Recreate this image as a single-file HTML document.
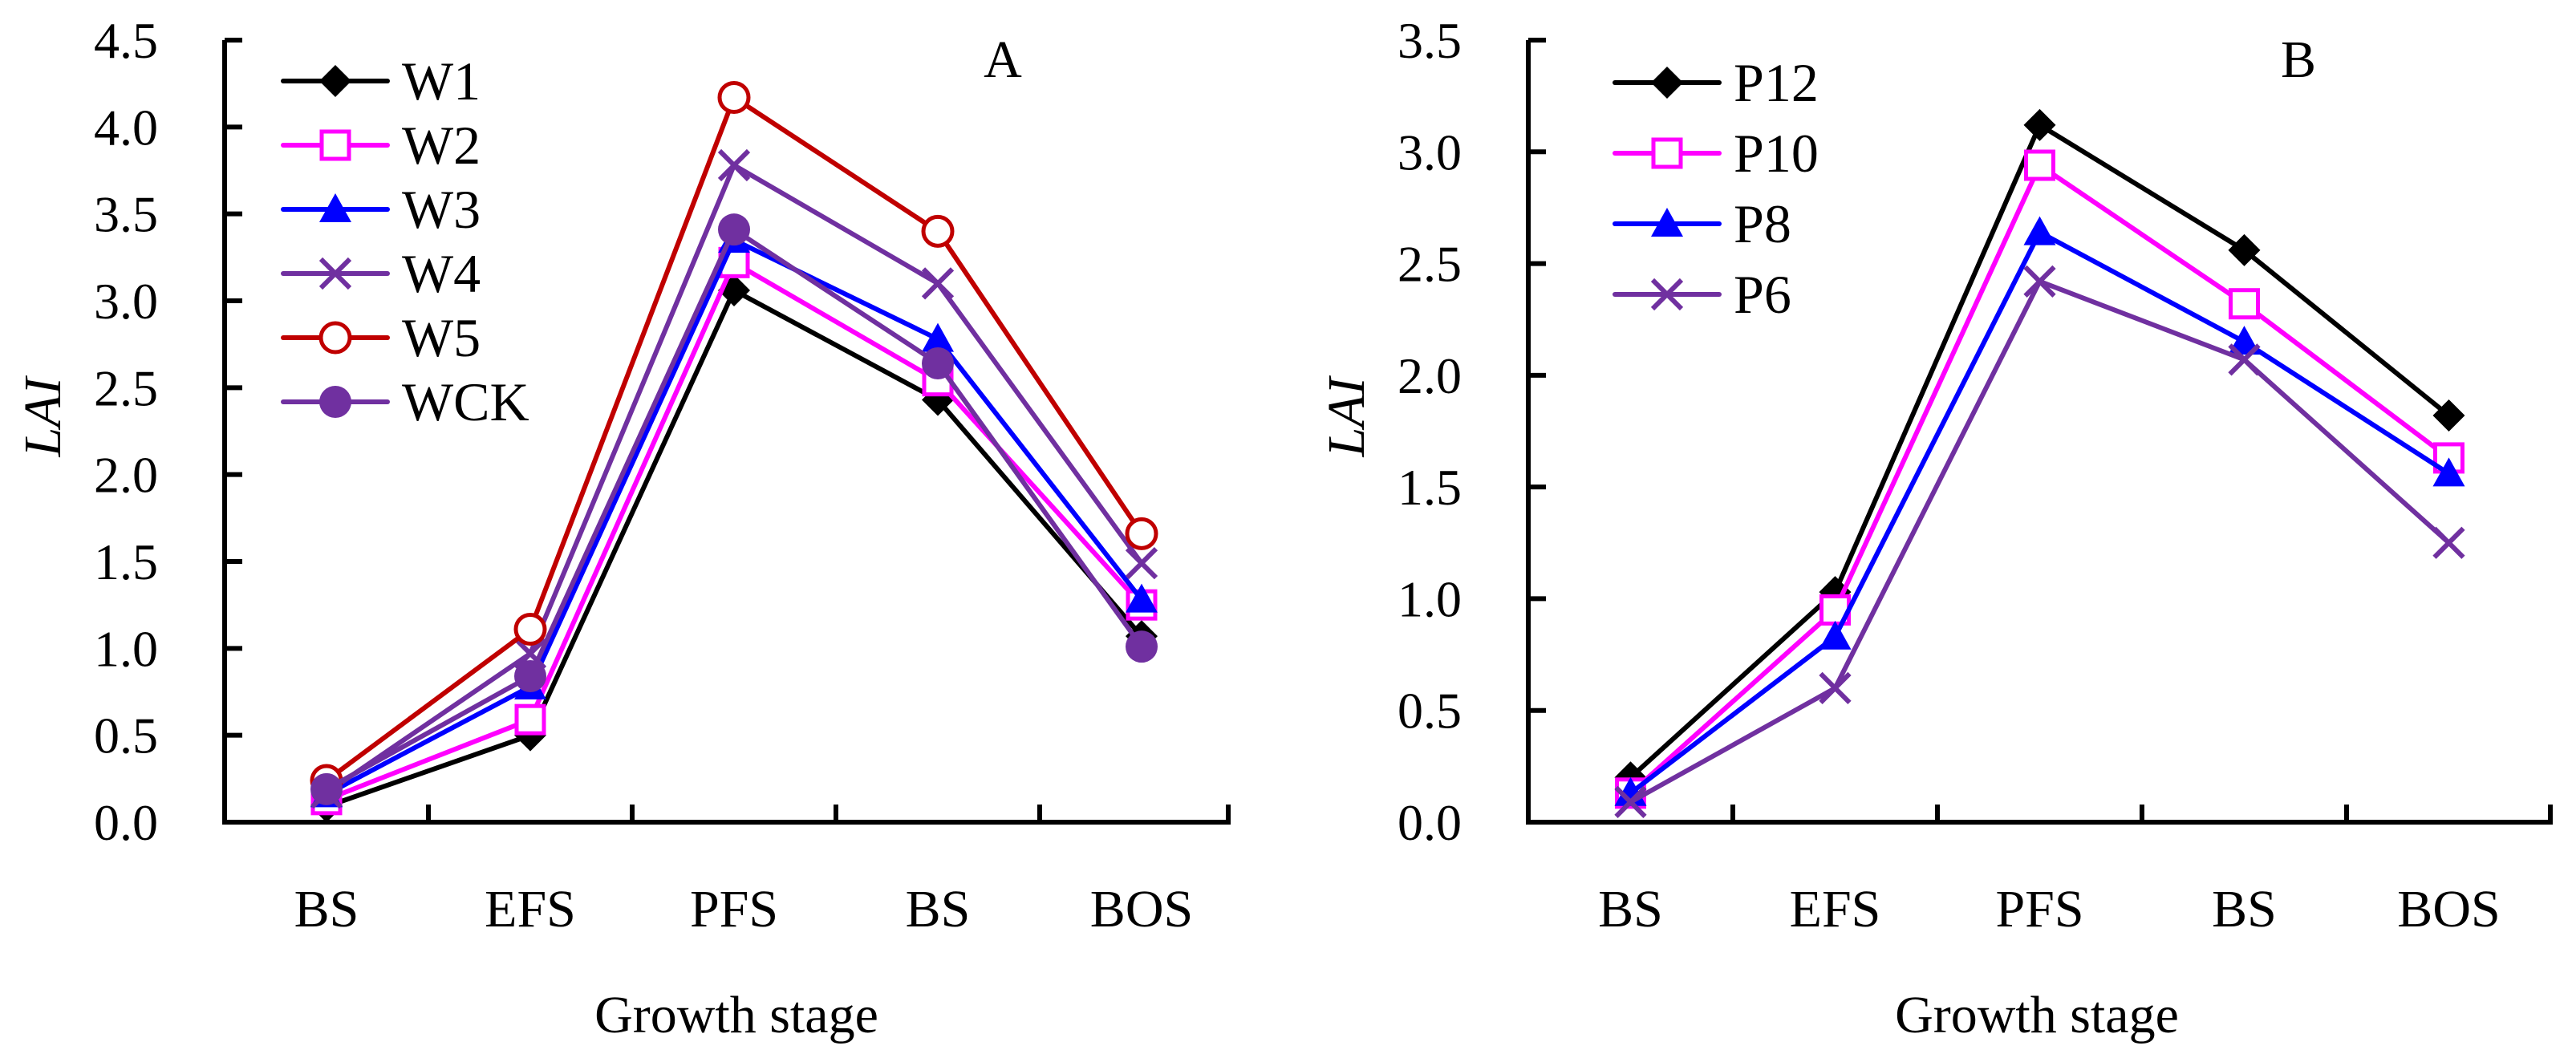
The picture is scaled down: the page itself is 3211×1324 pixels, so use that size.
<!DOCTYPE html>
<html><head><meta charset="utf-8"><style>
html,body{margin:0;padding:0;background:#fff;}
svg{display:block;}
svg text{font-family:"Liberation Serif","Times New Roman",serif;}
</style></head><body>
<svg id="chart" width="3211" height="1324" viewBox="0 0 3211 1324" xmlns="http://www.w3.org/2000/svg" font-family="Liberation Serif, serif"></svg>
<script>
const categories = ["BS","EFS","PFS","BS","BOS"];
const namesA = ["W1","W2","W3","W4","W5","WCK"];
const w1 = [0.09,0.50,3.06,2.43,1.07];
const w2 = [0.13,0.59,3.22,2.54,1.25];
const w3 = [0.16,0.78,3.35,2.78,1.28];
const w4 = [0.17,0.97,3.78,3.10,1.49];
const w5 = [0.24,1.11,4.17,3.40,1.66];
const wck = [0.19,0.84,3.41,2.64,1.01];
const namesB = ["P12","P10","P8","P6"];
const p12 = [0.20,1.03,3.12,2.56,1.82];
const p10 = [0.13,0.95,2.94,2.32,1.63];
const p8 = [0.13,0.83,2.64,2.15,1.56];
const p6 = [0.09,0.60,2.42,2.07,1.25];
const ticksA = ["0.0","0.5","1.0","1.5","2.0","2.5","3.0","3.5","4.0","4.5"];
const ticksB = ["0.0","0.5","1.0","1.5","2.0","2.5","3.0","3.5"];

const NS="http://www.w3.org/2000/svg";
const svg=document.getElementById('chart');
const FONT="Liberation Serif, Times New Roman, serif";
function mk(tag,attrs,parent){const e=document.createElementNS(NS,tag);for(const k in attrs)e.setAttribute(k,attrs[k]);if(tag==='text')e.setAttribute('font-family',FONT);(parent||svg).appendChild(e);return e;}

function marker(g,type,color,x,y){
  const s=20;let m;
  if(type==='diamond'){m=mk('polygon',{points:`${x},${y-s} ${x+s},${y} ${x},${y+s} ${x-s},${y}`,fill:color},g);}
  else if(type==='square'){m=mk('rect',{x:x-17,y:y-17,width:34,height:34,fill:'#fff',stroke:color,'stroke-width':5},g);}
  else if(type==='triangle'){m=mk('polygon',{points:`${x},${y-s} ${x+s},${y+s*0.8} ${x-s},${y+s*0.8}`,fill:color},g);}
  else if(type==='x'){m=mk('path',{d:`M${x-18},${y-18}L${x+18},${y+18}M${x-18},${y+18}L${x+18},${y-18}`,stroke:color,'stroke-width':6,fill:'none'},g);}
  else if(type==='circle'){m=mk('circle',{cx:x,cy:y,r:18,fill:'#fff',stroke:color,'stroke-width':5},g);}
  else {m=mk('circle',{cx:x,cy:y,r:20,fill:color},g);}
  
  
}

function panel(cfg){
  const g=mk('g',{});
  
  
  const x0=cfg.x0,xEnd=cfg.xEnd,y0=1025,yTop=50,vmax=cfg.vmax;
  const cw=cfg.cw;
  const X=i=>x0+cw*(i+0.5);
  const Y=v=>y0-(v/vmax)*(y0-yTop);
  const ax=mk('path',{d:`M${x0},${yTop}L${x0},${y0}L${xEnd},${y0}`,stroke:'#000','stroke-width':6,fill:'none'},g);
  
  
  cfg.ticks.forEach((t)=>{
    const v=parseFloat(t),y=Y(v);
    mk('line',{x1:x0,x2:x0+22,y1:y,y2:y,stroke:'#000','stroke-width':6},g);
    const tx=mk('text',{x:cfg.x0-83,y:y+22,'text-anchor':'end','font-size':64},g);
    tx.textContent=t;
    
    
  });
  for(let i=1;i<categories.length;i++){
    const x=x0+cw*i;
    mk('line',{x1:x,x2:x,y1:y0,y2:y0-22,stroke:'#000','stroke-width':6},g);
  }
  mk('line',{x1:xEnd-3,x2:xEnd-3,y1:y0,y2:y0-22,stroke:'#000','stroke-width':6},g);
  categories.forEach((c,i)=>{
    const t=mk('text',{x:X(i),y:1155,'text-anchor':'middle','font-size':66},g);
    t.textContent=c;
    
    
  });
  const xt=mk('text',{x:cfg.xtitle,y:1287,'text-anchor':'middle','font-size':66},g);
  xt.textContent='Growth stage';
  
  
  const yt=mk('text',{x:0,y:0,'text-anchor':'middle','font-size':66,'font-style':'italic',transform:`translate(${cfg.ylabx},520) rotate(-90)`},g);
  yt.textContent='LAI';
  
  
  const lt=mk('text',{x:cfg.letterX,y:96,'text-anchor':'middle','font-size':66},g);
  lt.textContent=cfg.letter;
  
  
  cfg.series.forEach((s,si)=>{
    const sg=mk('g',{},g);
    
    
    const pts=s.data.map((v,i)=>`${X(i)},${Y(v)}`).join(' ');
    mk('polyline',{points:pts,fill:'none',stroke:s.color,'stroke-width':6,'stroke-linejoin':'round'},sg);
    s.data.forEach((v,i)=>marker(sg,s.marker,s.color,X(i),Y(v)));
    const ly=cfg.legY+cfg.legStep*si;
    const lg=mk('g',{},g);
    
    
    mk('line',{x1:cfg.legX,x2:cfg.legX+130,y1:ly,y2:ly,stroke:s.color,'stroke-width':6,'stroke-linecap':'round'},lg);
    marker(lg,s.marker,s.color,cfg.legX+65,ly);
    const tt=mk('text',{x:cfg.legX+148,y:ly+23,'font-size':68},lg);
    tt.textContent=s.name;
  });
}

const P='#7030A0';
panel({id:'a',x0:280,xEnd:1534,cw:254,vmax:4.5,ticks:ticksA,xtitle:918,ylabx:75,letter:'A',letterX:1250,
  legX:353,legY:101,legStep:80,
  series:[
    {name:namesA[0],data:w1,color:'#000',marker:'diamond'},
    {name:namesA[1],data:w2,color:'#FF00FF',marker:'square'},
    {name:namesA[2],data:w3,color:'#0000FF',marker:'triangle'},
    {name:namesA[3],data:w4,color:P,marker:'x'},
    {name:namesA[4],data:w5,color:'#C00000',marker:'circle'},
    {name:namesA[5],data:wck,color:P,marker:'dot'}
  ]});
panel({id:'b',x0:1905,xEnd:3182,cw:255,vmax:3.5,ticks:ticksB,xtitle:2539,ylabx:1700,letter:'B',letterX:2865,
  legX:2013,legY:103,legStep:88,
  series:[
    {name:namesB[0],data:p12,color:'#000',marker:'diamond'},
    {name:namesB[1],data:p10,color:'#FF00FF',marker:'square'},
    {name:namesB[2],data:p8,color:'#0000FF',marker:'triangle'},
    {name:namesB[3],data:p6,color:P,marker:'x'}
  ]});
</script>
</body></html>
